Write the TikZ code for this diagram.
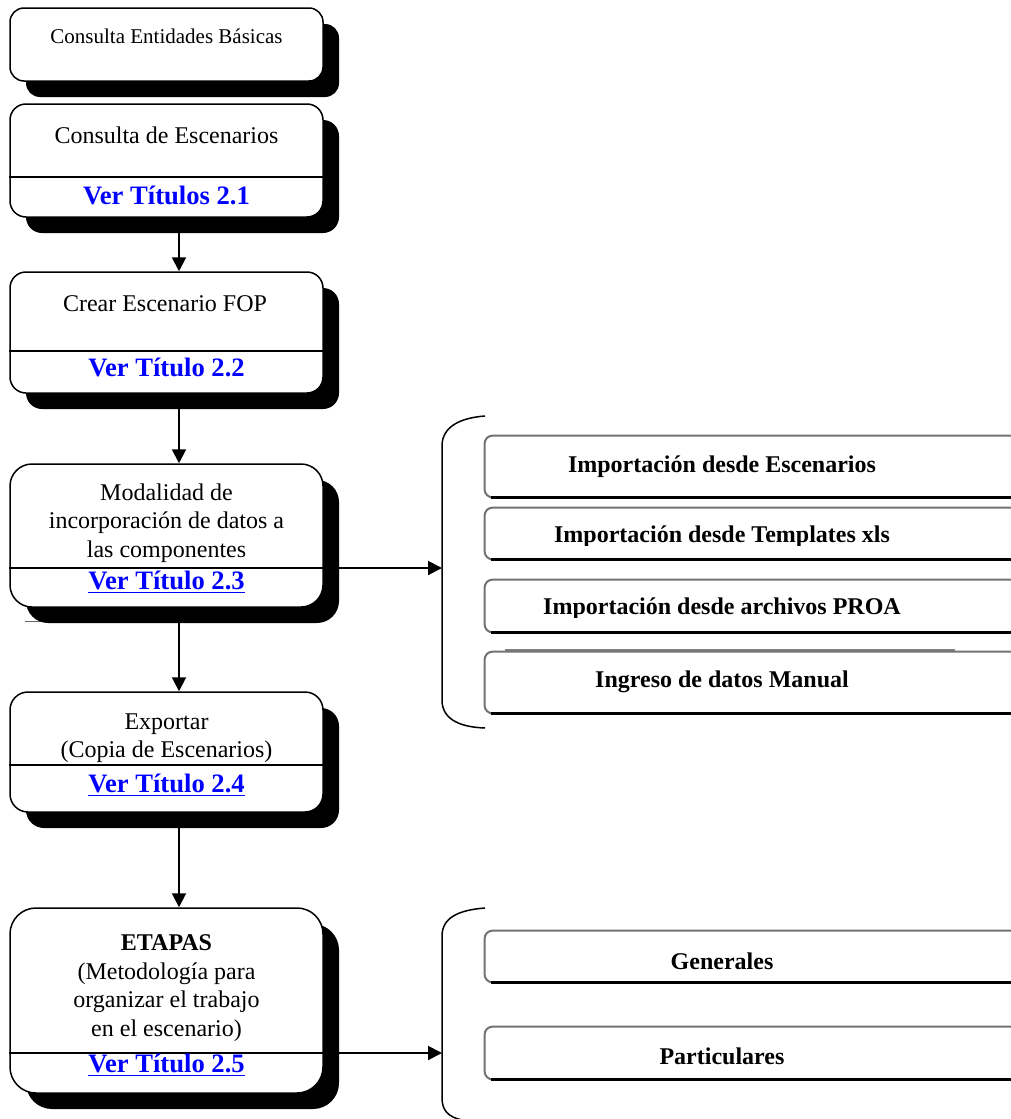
\documentclass[tikz,border=0pt]{standalone}
\usepackage{fontspec}
\setmainfont{Liberation Serif}
\usetikzlibrary{arrows.meta,calc}
\begin{document}
\begin{tikzpicture}[x=0.5pt,y=-0.5pt,
  box/.style={draw=black, line width=0.75pt, fill=white, inner sep=0pt, minimum width=156.5pt},
  shadowbox/.style={fill=black, inner sep=0pt, minimum width=156.5pt},
  txt/.style={inner sep=0pt, align=center, font=\fontsize{12}{14.3}\selectfont},
  vlink/.style={inner sep=0pt, text=blue, font=\fontsize{13.3}{15}\selectfont\bfseries},
  divider/.style={line width=0.75pt},
  arr/.style={line width=1pt, -{Triangle[length=7pt,width=7pt]}},
  brk/.style={line width=0.75pt},
  rbox/.style={fill=white, inner sep=0pt, minimum width=277.5pt},
  rgray/.style={draw=black!55, line width=1pt, rounded corners=4pt},
  rblack/.style={draw=black, line width=1.2pt},
  rtxt/.style={inner sep=0pt, font=\fontsize{12}{14}\selectfont\bfseries}
]
\clip (0,0) rectangle (1011,1119);
\fill[white] (0,0) rectangle (1011,1119);

% ---------- left column ----------
% box 1
\node[shadowbox, minimum height=36.5pt, rounded corners=7pt] (s1) at (182.5,60.5) {};
\node[box, minimum height=36.5pt, rounded corners=7pt] (b1) at (166.5,44.5) {};
\node[txt, font=\fontsize{10.5}{12}\selectfont] (t1) at (166.5,36) {Consulta Entidades Básicas};

% box 2
\node[shadowbox, minimum height=56.5pt, rounded corners=8pt] (s2) at (182.5,176.5) {};
\node[box, minimum height=56.5pt, rounded corners=8pt] (b2) at (166.5,160.5) {};
\coordinate (d2) at (0,177);
\draw[divider] (b2.west |- d2) -- (b2.east |- d2);
\node[txt] (t2) at (166.5,135) {Consulta de Escenarios};
\node[vlink] (v2) at (166.5,195) {Ver Títulos 2.1};

% box 3
\node[shadowbox, minimum height=60.5pt, rounded corners=8pt] (s3) at (182.5,348.5) {};
\node[box, minimum height=60.5pt, rounded corners=8pt] (b3) at (166.5,332.5) {};
\coordinate (d3) at (0,351);
\draw[divider] (b3.west |- d3) -- (b3.east |- d3);
\node[txt] (t3) at (165,304) {Crear Escenario FOP};
\node[vlink] (v3) at (166.5,367) {Ver Título 2.2};

% stray line
\draw[black!60, line width=0.5pt] (25,621) -- (285,621);

% box 4
\node[shadowbox, minimum height=71.5pt, rounded corners=11pt] (s4) at (182.5,551.5) {};
\node[box, minimum height=71.5pt, rounded corners=11pt] (b4) at (166.5,535.5) {};
\node[txt] (t4) at (166.5,523) {Modalidad de\\incorporación de datos a\\las componentes};
\coordinate (d4) at (0,568);
\draw[divider] (b4.west |- d4) -- (b4.east |- d4);
\node[vlink] (v4) at (166.5,582) {\underline{Ver Título 2.3}};

% box 5
\node[shadowbox, minimum height=60pt, rounded corners=9pt] (s5) at (182.5,768) {};
\node[box, minimum height=60pt, rounded corners=9pt] (b5) at (166.5,752) {};
\node[txt] (t5) at (166.5,738) {Exportar\\(Copia de Escenarios)};
\coordinate (d5) at (0,765);
\draw[divider] (b5.west |- d5) -- (b5.east |- d5);
\node[vlink] (v5) at (166.5,785) {\underline{Ver Título 2.4}};

% box 6
\node[shadowbox, minimum height=92.5pt, rounded corners=13pt] (s6) at (182.5,1016.5) {};
\node[box, minimum height=92.5pt, rounded corners=13pt] (b6) at (166.5,1000.5) {};
\node[txt] (t6) at (166.5,988) {\textbf{ETAPAS}\\(Metodología para\\organizar el trabajo\\ en el escenario)};
\coordinate (d6) at (0,1053);
\draw[divider] (b6.west |- d6) -- (b6.east |- d6);
\node[vlink] (v6) at (166.5,1065) {\underline{Ver Título 2.5}};

% ---------- vertical arrows ----------
\coordinate (ax) at (179,0);
\draw[arr] (s2.south -| ax) -- (b3.north -| ax);
\draw[arr] (s3.south -| ax) -- (b4.north -| ax);
\draw[arr] (s4.south -| ax) -- (b5.north -| ax);
\draw[arr] (s5.south -| ax) -- (b6.north -| ax);

% ---------- brackets ----------
\coordinate (k1) at (442,568);
\coordinate (k2) at (442,1053);
\draw[brk] (485,416) .. controls (458,418) and (442,428) .. (442,446) -- (442,700) .. controls (442,717) and (456,727) .. (485,728);
\draw[brk] (485,908) .. controls (458,910) and (442,918) .. (442,936) -- (442,1098) .. controls (442,1110) and (448,1117) .. (462,1120);

% ---------- horizontal arrows ----------
\draw[arr] (b4.east |- d4) -- (k1);
\draw[arr] (b6.east |- d6) -- (k2);

% ---------- right boxes ----------
\node[rbox, minimum height=30.5pt] (r1) at (762.5,466.5) {};
\node[rtxt] (rt1) at (722,467) {Importación desde Escenarios};
\draw[rgray] ([xshift=4pt]r1.south west) -- (r1.south west) -- (r1.north west) -- (r1.north east);
\draw[rblack] ([xshift=3pt]r1.south west) -- (r1.south east);

\node[rbox, minimum height=25.5pt] (r2) at (762.5,533.5) {};
\begin{scope}
\clip (485,500) rectangle (1011,545);
\node[rtxt] (rt2) at (722,537) {Importación desde Templates xls};
\end{scope}
\draw[rgray] ([xshift=4pt]r2.south west) -- (r2.south west) -- (r2.north west) -- (r2.north east);
\draw[rblack] ([xshift=3pt]r2.south west) -- (r2.south east);

\node[rbox, minimum height=26pt] (r3) at (762.5,606) {};
\begin{scope}
\clip (485,585) rectangle (1011,617);
\node[rtxt] (rt3) at (722,609) {Importación desde archivos PROA};
\end{scope}
\draw[rgray] ([xshift=4pt]r3.south west) -- (r3.south west) -- (r3.north west) -- (r3.north east);
\draw[rblack] ([xshift=3pt]r3.south west) -- (r3.south east);

\draw[black!50, line width=0.6pt] (505,650) -- (955,650);
\node[rbox, minimum height=30.5pt] (r4) at (762.5,682.5) {};
\node[rtxt] (rt4) at (722,682) {Ingreso de datos Manual};
\draw[rgray] ([xshift=4pt]r4.south west) -- (r4.south west) -- (r4.north west) -- (r4.north east);
\draw[rblack] ([xshift=3pt]r4.south west) -- (r4.south east);

\node[rbox, minimum height=25.5pt] (r5) at (762.5,956.5) {};
\node[rtxt] (rt5) at (722,961) {Generales};
\draw[rgray] ([xshift=4pt]r5.south west) -- (r5.south west) -- (r5.north west) -- (r5.north east);
\draw[rblack] ([xshift=3pt]r5.south west) -- (r5.south east);

\node[rbox, minimum height=26pt] (r6) at (762.5,1053) {};
\node[rtxt] (rt6) at (722,1056) {Particulares};
\draw[rgray] ([xshift=4pt]r6.south west) -- (r6.south west) -- (r6.north west) -- (r6.north east);
\draw[rblack] ([xshift=3pt]r6.south west) -- (r6.south east);
\end{tikzpicture}
\end{document}
